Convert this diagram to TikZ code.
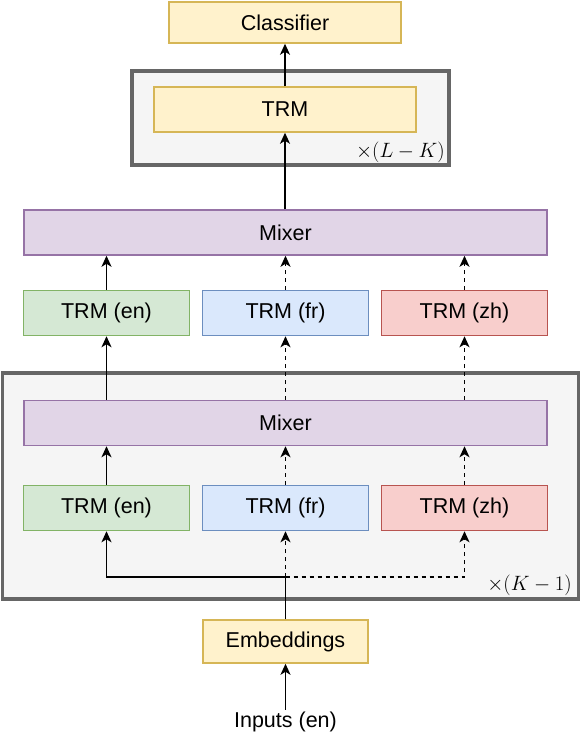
\documentclass[tikz,border=0pt]{standalone}
\usepackage{fontspec}
\setmainfont{Liberation Sans}
\usetikzlibrary{arrows.meta,positioning,calc}
\definecolor{yfill}{HTML}{FFF2CC}\definecolor{ydraw}{HTML}{D6B656}
\definecolor{gfill}{HTML}{D5E8D4}\definecolor{gdraw}{HTML}{82B366}
\definecolor{bfill}{HTML}{DAE8FC}\definecolor{bdraw}{HTML}{6C8EBF}
\definecolor{rfill}{HTML}{F8CECC}\definecolor{rdraw}{HTML}{B85450}
\definecolor{pfill}{HTML}{E1D5E7}\definecolor{pdraw}{HTML}{9673A6}
\definecolor{ofill}{HTML}{F5F5F5}\definecolor{odraw}{HTML}{666666}
\tikzset{
  box/.style={draw, line width=1.5pt, minimum height=45pt, inner sep=0pt, font=\fontsize{21.5}{26}\selectfont},
  ybox/.style={box, fill=yfill, draw=ydraw},
  gbox/.style={box, fill=gfill, draw=gdraw, minimum width=166pt},
  bbox/.style={box, fill=bfill, draw=bdraw, minimum width=166pt},
  rbox/.style={box, fill=rfill, draw=rdraw, minimum width=166pt},
  pbox/.style={box, fill=pfill, draw=pdraw, minimum width=523pt},
  outer/.style={draw=odraw, fill=ofill, line width=3.2pt},
  arr/.style={-{Stealth[length=11pt,width=10pt,inset=3pt]}, line width=1.6pt},
  darr/.style={arr, dash pattern=on 4pt off 4pt},
  rep/.style={font=\fontsize{20}{24}\selectfont, inner sep=0pt}
}
\begin{document}
\begin{tikzpicture}[x=1pt,y=-1pt]
\useasboundingbox (0,0) rectangle (582,742);
% outer containers
\draw[outer] (132,71) rectangle (449,165);
\draw[outer] (2.5,373) rectangle (578.5,599);
\node[rep, anchor=south east] (lk) at (445,163) {$\times(L-K)$};
\node[rep, anchor=south east] (k1) at (572,596) {$\times(K-1)$};
% nodes
\node[ybox, minimum width=232pt, minimum height=41pt] (cls) at (285,22.5) {Classifier};
\node[ybox, minimum width=262pt] (trm) at (285,109.5) {TRM};
\node[pbox] (mix1) at (285.5,232.5) {Mixer};
\node[gbox] (en1) at (106.5,313) {TRM (en)};
\node[bbox] (fr1) at (285.5,313) {TRM (fr)};
\node[rbox] (zh1) at (464.5,313) {TRM (zh)};
\node[pbox] (mix2) at (285.5,423) {Mixer};
\node[gbox] (en2) at (106.5,508) {TRM (en)};
\node[bbox] (fr2) at (285.5,508) {TRM (fr)};
\node[rbox] (zh2) at (464.5,508) {TRM (zh)};
\node[ybox, minimum width=165pt, minimum height=43pt] (emb) at (285.5,641.5) {Embeddings};
\node[font=\fontsize{21.5}{26}\selectfont, inner sep=2pt] (inp) at (285.5,722) {Inputs (en)};
\coordinate (br) at (285.5,577);
% connectors
\draw[arr] (inp.north) -- (emb.south);
\draw[line width=1.6pt] (emb.north) -- (br);
\draw[arr] (br) -| (en2.south);
\draw[darr] (br) -- (fr2.south);
\draw[darr] (br) -| (zh2.south);
\draw[arr] (en2.north) -- (en2.north |- mix2.south);
\draw[darr] (fr2.north) -- (fr2.north |- mix2.south);
\draw[darr] (zh2.north) -- (zh2.north |- mix2.south);
\draw[arr] (mix2.north -| en1.south) -- (en1.south);
\draw[darr] (mix2.north -| fr1.south) -- (fr1.south);
\draw[darr] (mix2.north -| zh1.south) -- (zh1.south);
\draw[arr] (en1.north) -- (en1.north |- mix1.south);
\draw[darr] (fr1.north) -- (fr1.north |- mix1.south);
\draw[darr] (zh1.north) -- (zh1.north |- mix1.south);
\draw[arr] (mix1.north -| trm.south) -- (trm.south);
\draw[arr] (trm.north) -- (cls.south);
\end{tikzpicture}
\end{document}
